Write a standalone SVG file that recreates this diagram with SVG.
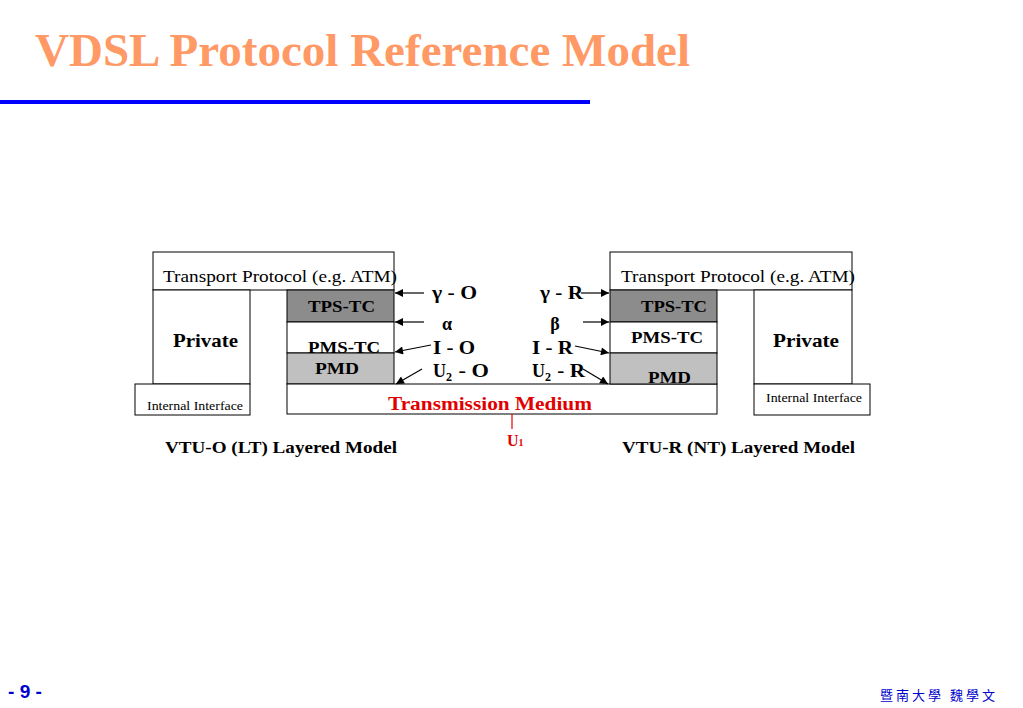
<svg xmlns="http://www.w3.org/2000/svg" width="1023" height="708" viewBox="0 0 1023 708">
<defs>
<marker id="ah" viewBox="0 0 10 10" refX="10" refY="5" markerWidth="10" markerHeight="8" markerUnits="userSpaceOnUse" orient="auto"><path d="M0,0 L10,5 L0,10 z" fill="#000"/></marker>
<style>
.b{stroke:#000;stroke-width:1;}
.w{fill:#fff;}
.dk{fill:#8c8c8c;}
.lt{fill:#c0c0c0;}
.t{font-family:"Liberation Serif",serif;fill:#000;}
.bd{font-family:"Liberation Serif",serif;font-weight:bold;fill:#000;}
.ar{stroke:#000;stroke-width:1.2;fill:none;marker-end:url(#ah);}
</style>
</defs>
<rect width="1023" height="708" fill="#fff"/>
<text x="35" y="66" font-family="Liberation Serif,serif" font-weight="bold" font-size="47" fill="#FF9966" textLength="655" lengthAdjust="spacingAndGlyphs">VDSL Protocol Reference Model</text>
<rect x="0" y="100" width="590" height="4" fill="#0000FF"/>

<g id="left-transport"><rect class="b w" x="153" y="252" width="241" height="38"/><text class="t" x="163" y="282" font-size="17" textLength="234" lengthAdjust="spacingAndGlyphs">Transport Protocol (e.g. ATM)</text></g>
<g id="left-private"><rect class="b w" x="153" y="290" width="97" height="94"/><text class="bd" x="173" y="347" font-size="19" textLength="65" lengthAdjust="spacingAndGlyphs">Private</text></g>
<g id="left-internal"><rect class="b w" x="135" y="384" width="115" height="31"/><text class="t" x="147" y="410" font-size="11.5" textLength="96" lengthAdjust="spacingAndGlyphs">Internal Interface</text></g>
<g id="left-tpstc"><rect class="b dk" x="287" y="290" width="107" height="32"/><text class="bd" x="308" y="312" font-size="16" textLength="67" lengthAdjust="spacingAndGlyphs">TPS-TC</text></g>
<g id="left-pmstc"><rect class="b w" x="287" y="322" width="107" height="31"/><text class="bd" x="308" y="353" font-size="16" textLength="72" lengthAdjust="spacingAndGlyphs">PMS-TC</text></g>
<g id="left-pmd"><rect class="b lt" x="287" y="353" width="107" height="31"/><text class="bd" x="315" y="374" font-size="16" textLength="44" lengthAdjust="spacingAndGlyphs">PMD</text></g>

<g id="medium"><rect class="b w" x="287" y="384" width="430" height="30"/><text x="388" y="410" font-family="Liberation Serif,serif" font-weight="bold" font-size="18" fill="#E00000" textLength="204" lengthAdjust="spacingAndGlyphs">Transmission Medium</text></g>

<g id="right-transport"><rect class="b w" x="610" y="252" width="242" height="38"/><text class="t" x="621" y="282" font-size="17" textLength="234" lengthAdjust="spacingAndGlyphs">Transport Protocol (e.g. ATM)</text></g>
<g id="right-tpstc"><rect class="b dk" x="610" y="290" width="107" height="32"/><text class="bd" x="641" y="312" font-size="16" textLength="66" lengthAdjust="spacingAndGlyphs">TPS-TC</text></g>
<g id="right-pmstc"><rect class="b w" x="610" y="322" width="107" height="31"/><text class="bd" x="631" y="343" font-size="16" textLength="72" lengthAdjust="spacingAndGlyphs">PMS-TC</text></g>
<g id="right-pmd"><rect class="b lt" x="610" y="353" width="107" height="31"/><text class="bd" x="648" y="383" font-size="16" textLength="43" lengthAdjust="spacingAndGlyphs">PMD</text></g>
<g id="right-private"><rect class="b w" x="754" y="290" width="98" height="94"/><text class="bd" x="773" y="347" font-size="19" textLength="66" lengthAdjust="spacingAndGlyphs">Private</text></g>
<g id="right-internal"><rect class="b w" x="754" y="384" width="116" height="31"/><text class="t" x="766" y="402" font-size="11.5" textLength="96" lengthAdjust="spacingAndGlyphs">Internal Interface</text></g>

<g id="connectors">
<line class="ar" x1="424" y1="293" x2="395" y2="293"/>
<line class="ar" x1="424" y1="322" x2="395" y2="322"/>
<line class="ar" x1="431" y1="345" x2="395" y2="352"/>
<line class="ar" x1="422" y1="369" x2="396" y2="384"/>
<line class="ar" x1="581" y1="293" x2="609" y2="293"/>
<line class="ar" x1="583" y1="322" x2="609" y2="322"/>
<line class="ar" x1="575" y1="346" x2="609" y2="353"/>
<line class="ar" x1="583" y1="369" x2="608" y2="384"/>
<line x1="512" y1="414" x2="512" y2="429" stroke="#E00000" stroke-width="1.2"/>
</g>

<g id="labels" font-family="Liberation Serif,serif" font-weight="bold" font-size="18" fill="#000">
<text x="432" y="299" textLength="45" lengthAdjust="spacingAndGlyphs">γ - O</text>
<text x="447" y="330" text-anchor="middle">α</text>
<text x="433" y="354" textLength="42" lengthAdjust="spacingAndGlyphs">I - O</text>
<text x="433" y="377">U<tspan font-size="12" dy="4">2</tspan><tspan dy="-4" dx="1" textLength="36" lengthAdjust="spacingAndGlyphs"> - O</tspan></text>
<text x="540" y="299" textLength="43" lengthAdjust="spacingAndGlyphs">γ - R</text>
<text x="555" y="330" text-anchor="middle">β</text>
<text x="532" y="354" textLength="41" lengthAdjust="spacingAndGlyphs">I - R</text>
<text x="532" y="377">U<tspan font-size="12" dy="4">2</tspan><tspan dy="-4" dx="1" textLength="33" lengthAdjust="spacingAndGlyphs"> - R</tspan></text>
</g>
<text x="507" y="446" font-family="Liberation Serif,serif" font-weight="bold" font-size="16" fill="#E00000">U<tspan font-size="10">1</tspan></text>

<text class="bd" x="165" y="453" font-size="16" textLength="232" lengthAdjust="spacingAndGlyphs">VTU-O (LT) Layered Model</text>
<text class="bd" x="622" y="453" font-size="16" textLength="233" lengthAdjust="spacingAndGlyphs">VTU-R (NT) Layered Model</text>

<text x="8" y="698" font-family="Liberation Sans,sans-serif" font-weight="bold" font-size="18" fill="#0000CC" textLength="34" lengthAdjust="spacingAndGlyphs">- 9 -</text>
<text x="880" y="700" font-family="Noto Sans CJK TC,sans-serif" font-size="13" fill="#0000CC" textLength="115" lengthAdjust="spacing">暨南大學 魏學文</text>
</svg>
